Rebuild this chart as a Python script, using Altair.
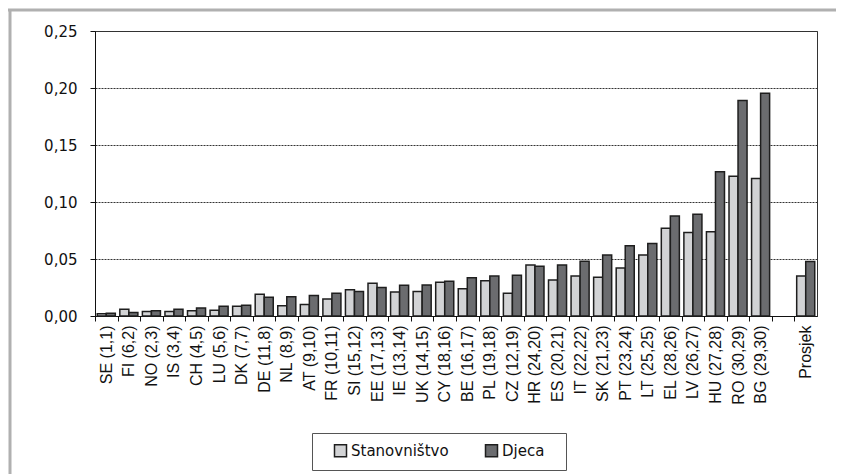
import altair as alt
import pandas as pd

countries = ["SE (1,1)", "FI (6,2)", "NO (2,3)", "IS (3,4)", "CH (4,5)", "LU (5,6)",
             "DK (7,7)", "DE (11,8)", "NL (8,9)", "AT (9,10)", "FR (10,11)", "SI (15,12)",
             "EE (17,13)", "IE (13,14)", "UK (14,15)", "CY (18,16)", "BE (16,17)",
             "PL (19,18)", "CZ (12,19)", "HR (24,20)", "ES (20,21)", "IT (22,22)",
             "SK (21,23)", "PT (23,24)", "LT (25,25)", "EL (28,26)", "LV (26,27)",
             "HU (27,28)", "RO (30,29)", "BG (29,30)", "Prosjek"]
stanovnistvo = [0.002, 0.006, 0.004, 0.004, 0.0047, 0.005, 0.0085, 0.019, 0.009, 0.010,
                0.015, 0.023, 0.0288, 0.021, 0.0214, 0.0297, 0.024, 0.031, 0.020, 0.0448,
                0.0315, 0.035, 0.0341, 0.042, 0.0536, 0.077, 0.0732, 0.0738, 0.1225, 0.1207,
                0.035]
djeca = [0.0025, 0.003, 0.0047, 0.006, 0.007, 0.0085, 0.0094, 0.0165, 0.0168, 0.018,
         0.020, 0.0216, 0.025, 0.027, 0.0272, 0.0305, 0.0335, 0.035, 0.0358, 0.0436,
         0.0448, 0.048, 0.0535, 0.0616, 0.0637, 0.0877, 0.0892, 0.1265, 0.189, 0.1954,
         0.0478]
series_names = ["Stanovništvo", "Djeca"]
series_colors = ["#d2d3d5", "#6b6c6f"]
y_ticks = [0, 0.05, 0.10, 0.15, 0.20, 0.25]

blank = " "
x_domain = countries[:-1] + [blank] + countries[-1:]

rows = []
for c, p, k in zip(countries, stanovnistvo, djeca):
    rows.append({"cat": c, "series": series_names[0], "value": p})
    rows.append({"cat": c, "series": series_names[1], "value": k})
df = pd.DataFrame(rows)

W, H = 722, 285
step = W / len(x_domain)

bars = alt.Chart(df).mark_bar(stroke="#1e1e1e", strokeWidth=1.5).encode(
    x=alt.X("cat:N",
            scale=alt.Scale(domain=x_domain, paddingInner=0.2, paddingOuter=0.1),
            axis=alt.Axis(title=None, labelAngle=270, tickOffset=-step / 2,
                          labelOffset=step / 2, tickSize=5, tickColor="#111",
                          domainColor="#111", labelFont="Liberation Sans",
                          labelFontSize=16, labelColor="#111", labelPadding=4,
                          labelOverlap=False, labelLimit=200)),
    xOffset=alt.XOffset("series:N",
                        scale=alt.Scale(domain=series_names, paddingInner=0, paddingOuter=0)),
    y=alt.Y("value:Q",
            scale=alt.Scale(domain=[0, 0.25]),
            axis=alt.Axis(title=None, values=y_ticks,
                          labelExpr="replace(format(datum.value, '.2f'), '.', ',')",
                          labelFont="DejaVu Sans", labelFontSize=15, labelColor="#111",
                          labelPadding=13, tickSize=5, tickColor="#111",
                          domainColor="#111", grid=True, gridDash=[2, 1],
                          gridColor="#333", gridWidth=1)),
    color=alt.Color("series:N",
                    scale=alt.Scale(domain=series_names, range=series_colors),
                    legend=alt.Legend(title=None, orient="none", legendX=217, legendY=402,
                                      direction="horizontal", symbolType="square",
                                      symbolSize=144, symbolStrokeColor="#1e1e1e",
                                      symbolStrokeWidth=1.5, symbolOpacity=1,
                                      labelFont="DejaVu Sans", labelFontSize=15,
                                      labelColor="#111", strokeColor="#555",
                                      fillColor="white", padding=10, symbolOffset=11,
                                      labelOffset=3, columnPadding=24,
                                      labelExpr="datum.label == 'Djeca' ? 'Djeca\u2800' : datum.label")),
)

frame_df = pd.DataFrame({"k": [0]})
frame_left = alt.Chart(frame_df).mark_rule(color="#b0b0b0", strokeWidth=3).encode(
    x=alt.value(-85), y=alt.value(-21), y2=alt.value(460))
frame_top = alt.Chart(frame_df).mark_rule(color="#b0b0b0", strokeWidth=3).encode(
    x=alt.value(-87), x2=alt.value(745), y=alt.value(-21))
frame_right = alt.Chart(frame_df).mark_rule(color="#b0b0b0", strokeWidth=3).encode(
    x=alt.value(745), y=alt.value(-21), y2=alt.value(460))

chart = alt.layer(bars, frame_left, frame_top, frame_right).properties(
    width=W, height=H,
    autosize=alt.AutoSizeParams(type="none"),
    padding={"left": 87, "top": 23, "right": 19, "bottom": 170},
).configure_view(stroke="#333", strokeWidth=1)

chart.save("out.html", embed_options={"renderer": "svg", "actions": False})
